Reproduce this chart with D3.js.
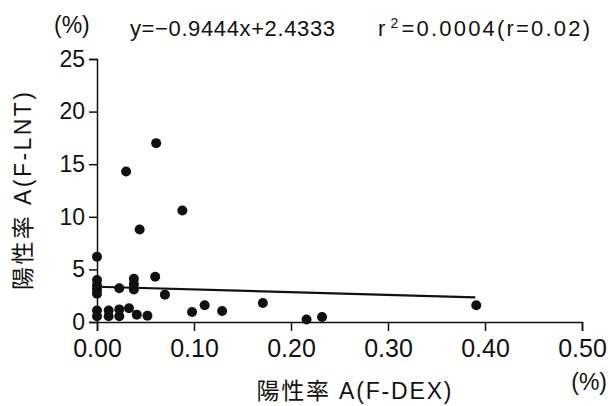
<!DOCTYPE html>
<html><head><meta charset="utf-8">
<script src="https://cdn.jsdelivr.net/npm/d3@7"></script>
<style>
html,body{margin:0;padding:0;background:#fff;}
svg{display:block;}
text{font-family:"Liberation Sans","Noto Sans CJK JP",sans-serif;fill:#111;}
</style></head>
<body>
<svg id="c" width="608" height="406"></svg>
<script>
// ---- data ----
const xValues = [0,0,0,0,0,0,0,0.012,0.012,0.023,0.023,0.023,0.030,0.033,0.038,0.038,0.038,0.041,0.044,0.052,0.060,0.061,0.070,0.088,0.098,0.111,0.129,0.171,0.216,0.232,0.391];
const yValues = [6.2,4.0,3.5,3.1,2.7,1.1,0.55,1.1,0.55,3.2,1.2,0.55,14.3,1.3,4.1,3.6,3.1,0.7,8.8,0.6,4.3,17.0,2.6,10.6,0.95,1.6,1.05,1.8,0.23,0.48,1.6];
const fitX = [0, 0.39];
const fitY = [3.35, 2.35];
const xTicks = [0,0.1,0.2,0.3,0.4,0.5];
const xTickLabels = ["0.00","0.10","0.20","0.30","0.40","0.50"];
const yTicks = [0,5,10,15,20,25];
const xTitle = "陽性率 A(F-DEX)";
const yTitle = "陽性率 A(F-LNT)";
const unitLabel = "(%)";
const equation = "y=\u22120.9444x+2.4333";

const svg = d3.select("#c");
svg.append("rect").attr("width",608).attr("height",406).attr("fill","#fff");

const x = d3.scaleLinear().domain([0,0.5]).range([97,582]);
const y = d3.scaleLinear().domain([0,25]).range([322,59]);

// axes
const xAxis = svg.append("g").attr("transform",`translate(0,${y(0)})`)
  .call(d3.axisBottom(x).tickValues(xTicks).tickFormat((d,i)=>xTickLabels[i]).tickSizeOuter(0).tickSize(9).tickPadding(3));
xAxis.selectAll("text").attr("font-size",25).attr("dy","0.9em");
const yAxis = svg.append("g").attr("transform",`translate(${x(0)},0)`)
  .call(d3.axisLeft(y).tickValues(yTicks).tickSizeOuter(0).tickSize(8).tickPadding(4));
yAxis.selectAll("text").attr("font-size",23);
svg.selectAll(".domain, .tick line").attr("stroke","#111").attr("stroke-width",1.5);
svg.selectAll(".tick text").attr("fill","#111").attr("font-family",'"Liberation Sans",sans-serif');

// fit line
svg.append("line")
  .attr("x1",x(fitX[0])).attr("y1",y(fitY[0]))
  .attr("x2",x(fitX[1])).attr("y2",y(fitY[1]))
  .attr("stroke","#111").attr("stroke-width",2.2);

// points
svg.append("g").selectAll("circle").data(xValues.map((v,i)=>[v,yValues[i]])).join("circle")
  .attr("cx",d=>x(d[0])).attr("cy",d=>y(d[1])).attr("r",5).attr("fill","#111");

// top texts
svg.append("text").attr("x",54).attr("y",33).attr("font-size",23).text(unitLabel);
svg.append("text").attr("x",130).attr("y",36).attr("font-size",22)
  .attr("textLength",205).attr("lengthAdjust","spacing").text(equation);
const r2 = svg.append("text").attr("x",378).attr("y",36).attr("font-size",22);
r2.append("tspan").text("r");
r2.append("tspan").attr("font-size",14).attr("dy",-8).attr("dx",3).text("2");
r2.append("tspan").attr("dy",8).attr("dx",1).text("=0.0004(r=0.02)");
r2.attr("textLength",212).attr("lengthAdjust","spacing");

// axis titles
svg.append("text").attr("x",354).attr("y",399).attr("text-anchor","middle").attr("font-size",23)
  .attr("textLength",195).attr("lengthAdjust","spacing").text(xTitle);
svg.append("text").attr("x",607).attr("y",390).attr("text-anchor","end").attr("font-size",23).text(unitLabel);
svg.append("text").attr("transform","translate(31,191) rotate(-90)").attr("text-anchor","middle")
  .attr("font-size",23).attr("textLength",198).attr("lengthAdjust","spacing").text(yTitle);
</script>
</body></html>
